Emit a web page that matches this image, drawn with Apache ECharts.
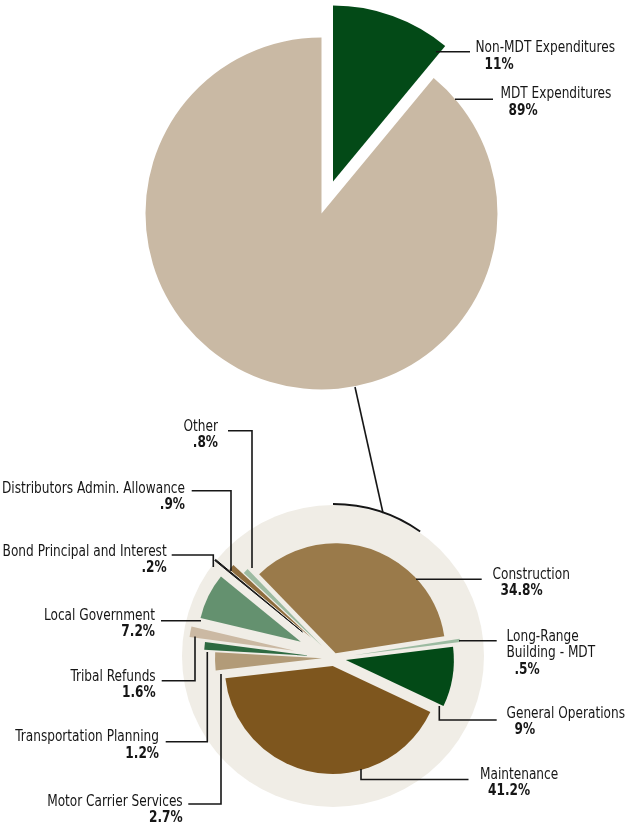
<!DOCTYPE html>
<html>
<head>
<meta charset="utf-8">
<script src="https://cdn.jsdelivr.net/npm/echarts@6/dist/echarts.min.js"></script>
<style>
  html, body { margin: 0; padding: 0; background: #ffffff; }
  #chart { width: 632px; height: 826px; }
</style>
</head>
<body>
<div id="chart"></div>
<script>
// ---- Data ----
const topCategories = ['Non-MDT Expenditures', 'MDT Expenditures'];
const topValues = [11, 89];

const categories = [
  'Construction',
  'Long-Range\nBuilding - MDT',
  'General Operations',
  'Maintenance',
  'Motor Carrier Services',
  'Transportation Planning',
  'Tribal Refunds',
  'Local Government',
  'Bond Principal and Interest',
  'Distributors Admin. Allowance',
  'Other'
];
const values = [34.8, 0.5, 9, 41.2, 2.7, 1.2, 1.6, 7.2, 0.2, 0.9, 0.8];

// ---- Styling / layout ----
const topColors = ['#034a17', '#c9b9a4'];
const sliceColors = ['#9a7a4a', '#9cbba1', '#034a17', '#7e561e', '#b29b78',
                     '#2e6a41', '#cbb9a3', '#64916f', '#161616', '#8f6d3e', '#9cbba1'];
const sliceRadius = [110, 107, 108, 108, 107, 106, 106, 103, 113, 107, 107];
const sliceOffset = [5, 20, 12, 8, 12, 24, 40, 37, 41, 30, 17];

const FONT_FAMILY = '"Liberation Sans Narrow", "DejaVu Sans Condensed", "Liberation Sans", Arial, sans-serif';
const NAME_FONT = '15px ' + FONT_FAMILY;
const PCT_FONT = 'bold 15px ' + FONT_FAMILY;
const TEXT_SQUEEZE = 0.9;
const LINE_H = 16.5;
const INK = '#161616';

// percentage text as printed: leading zero dropped
const pct = v => String(v).replace(/^0(?=\.)/, '') + '%';

// label anchors (name position, alignment) and leader polylines
const topLabelPlace = [
  { x: 475.5, y: 48.5, align: 'left', indent: 9, line: [[436, 51.7], [470, 51.7]] },
  { x: 500.5, y: 94.5, align: 'left', indent: 8, line: [[455, 99.3], [493, 99.3]] }
];
const labelPlace = [
  { x: 492.5, y: 575,   align: 'left',  indent: 8, line: [[416, 579.3], [481.7, 579.3]] },
  { x: 506.5, y: 636.7, align: 'left',  indent: 8, line: [[459, 640.7], [496.7, 640.7]] },
  { x: 506.5, y: 714,   align: 'left',  indent: 8, line: [[439.3, 706], [439.3, 720], [496.7, 720]] },
  { x: 480,   y: 775,   align: 'left',  indent: 8, line: [[361, 769], [361, 779.5], [468.5, 779.5]] },
  { x: 182.7, y: 801.7, align: 'right', indent: 0, line: [[221, 674], [221, 804], [188.3, 804]] },
  { x: 159,   y: 737.3, align: 'right', indent: 0, line: [[207.3, 652], [207.3, 741.7], [165.7, 741.7]] },
  { x: 155.7, y: 676.7, align: 'right', indent: 0, line: [[195, 636.5], [195, 680.7], [161.7, 680.7]] },
  { x: 155,   y: 616,   align: 'right', indent: 0, line: [[201, 620.7], [161, 620.7]] },
  { x: 166.7, y: 551.7, align: 'right', indent: 0, line: [[213.3, 567], [213.3, 555], [171.7, 555]] },
  { x: 185,   y: 489,   align: 'right', indent: 0, line: [[231, 571], [231, 490.7], [191.7, 490.7]] },
  { x: 218,   y: 426.7, align: 'right', indent: 0, line: [[252, 568], [252, 430.7], [228, 430.7]] }
];

function labelGraphics(names, vals, places) {
  const out = [];
  names.forEach((name, i) => {
    const p = places[i];
    const lines = name.split('\n');
    lines.forEach((ln, k) => {
      out.push({
        type: 'text', x: p.x, y: p.y + k * (LINE_H - 0.5), scaleX: TEXT_SQUEEZE, z: 20, silent: true,
        style: { text: ln, font: NAME_FONT, fill: INK, align: p.align, verticalAlign: 'middle' }
      });
    });
    out.push({
      type: 'text', x: p.x + p.indent, y: p.y + lines.length * LINE_H, scaleX: TEXT_SQUEEZE, z: 20, silent: true,
      style: { text: pct(vals[i]), font: PCT_FONT, fill: INK, align: p.align, verticalAlign: 'middle' }
    });
    out.push({
      type: 'polyline', z: 20, silent: true,
      shape: { points: p.line },
      style: { stroke: INK, lineWidth: 1.6, fill: null }
    });
  });
  return out;
}

// one series per detail slice so each wedge keeps its own reach and explosion
const detailSeries = categories.map((name, i) => ({
  type: 'pie',
  name: name,
  center: [334, 658],
  radius: [0, sliceRadius[i]],
  startAngle: 134,
  clockwise: true,
  selectedMode: 'single',
  selectedOffset: sliceOffset[i],
  silent: true,
  z: 3,
  label: { show: false },
  labelLine: { show: false },
  emphasis: { disabled: true },
  data: values.map((v, j) => {
    const style = j === i
      ? { color: sliceColors[i], borderColor: sliceColors[i], borderWidth: j === 8 ? 1 : 0 }
      : { color: 'rgba(0,0,0,0)', borderWidth: 0 };
    return { value: v, name: categories[j], selected: j === i, itemStyle: style, select: { itemStyle: style } };
  })
}));

const option = {
  animation: false,
  backgroundColor: '#ffffff',
  series: [
    {
      type: 'pie',
      name: 'Expenditures',
      center: [321.5, 213.5],
      radius: [0, 176],
      startAngle: 90,
      clockwise: true,
      selectedMode: 'single',
      selectedOffset: 34,
      silent: true,
      label: { show: false },
      labelLine: { show: false },
      emphasis: { disabled: true },
      data: topCategories.map((n, i) => ({
        name: n, value: topValues[i], selected: i === 0,
        itemStyle: { color: topColors[i], borderWidth: 0 },
        select: { itemStyle: { color: topColors[i], borderWidth: 0 } }
      }))
    },
    {
      type: 'pie',
      name: 'backdrop',
      center: [333, 656],
      radius: [0, 151],
      silent: true,
      z: 1,
      label: { show: false },
      labelLine: { show: false },
      emphasis: { disabled: true },
      data: [{ value: 1, name: 'MDT', itemStyle: { color: '#f0ede6' } }]
    },
    ...detailSeries
  ],
  graphic: [
    // bracket marking the MDT share that is broken down below
    {
      type: 'arc', z: 20, silent: true,
      shape: { cx: 333, cy: 656, r: 152, startAngle: -Math.PI / 2, endAngle: -55 * Math.PI / 180, clockwise: true },
      style: { stroke: INK, lineWidth: 1.8, fill: null }
    },
    {
      type: 'polyline', z: 20, silent: true,
      shape: { points: [[355, 387], [383, 513]] },
      style: { stroke: INK, lineWidth: 1.6, fill: null }
    },
    ...labelGraphics(topCategories, topValues, topLabelPlace),
    ...labelGraphics(categories, values, labelPlace)
  ]
};

const chart = echarts.init(document.getElementById('chart'), null, { renderer: 'canvas' });
chart.setOption(option);
</script>
</body>
</html>
